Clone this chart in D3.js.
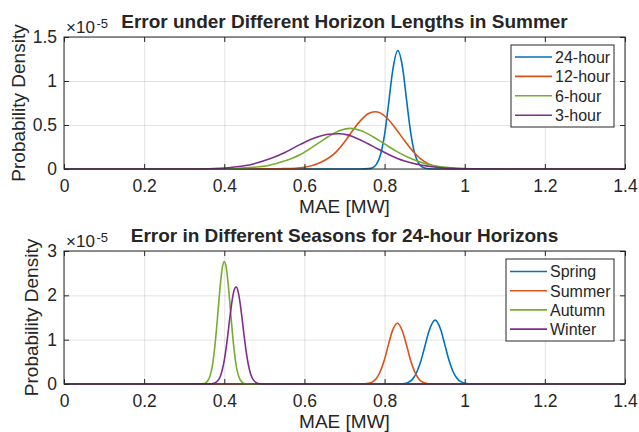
<!DOCTYPE html>
<html>
<head>
<meta charset="utf-8">
<script src="https://cdn.jsdelivr.net/npm/d3@7"></script>
<style>
  body { margin: 0; background: #fff; }
  svg { font-family: "Liberation Sans", Arial, Helvetica, sans-serif; }
</style>
</head>
<body>
<div id="chart"></div>
<script>
// tick values
const xTicks = [0, 0.2, 0.4, 0.6, 0.8, 1, 1.2, 1.4];
const topYTicks = [0, 0.5, 1, 1.5];
const bottomYTicks = [0, 1, 2, 3];

const horizonNames = ["24-hour", "12-hour", "6-hour", "3-hour"];
const seasonNames = ["Spring", "Summer", "Autumn", "Winter"];
const lineColors = ["#0072BD", "#D95319", "#77AC30", "#7E2F8E"];

// summer, by horizon (density in units of 1e-5)
const h24Mae = [0, 0.70, 0.74, 0.76, 0.77, 0.78, 0.79, 0.80, 0.81, 0.82, 0.833, 0.845, 0.855, 0.865, 0.875, 0.885, 0.895, 0.91, 0.93, 0.96, 1.4];
const h24Pdf = [0, 0, 0, 0.004, 0.015, 0.056, 0.165, 0.39, 0.74, 1.11, 1.345, 1.15, 0.78, 0.42, 0.18, 0.065, 0.02, 0.003, 0, 0, 0];
const h12Mae = [0, 0.45, 0.50, 0.55, 0.60, 0.64, 0.68, 0.70, 0.72, 0.74, 0.76, 0.776, 0.79, 0.81, 0.83, 0.85, 0.87, 0.89, 0.91, 0.93, 0.96, 1.0, 1.05, 1.4];
const h12Pdf = [0, 0, 0.001, 0.004, 0.02, 0.073, 0.197, 0.306, 0.434, 0.55, 0.63, 0.651, 0.635, 0.56, 0.446, 0.32, 0.205, 0.115, 0.058, 0.025, 0.006, 0.001, 0, 0];
const h6Mae = [0, 0.35, 0.39, 0.43, 0.47, 0.51, 0.55, 0.59, 0.63, 0.66, 0.69, 0.714, 0.74, 0.77, 0.80, 0.83, 0.86, 0.90, 0.94, 0.98, 1.03, 1.1, 1.4];
const h6Pdf = [0, 0, 0.002, 0.006, 0.018, 0.04, 0.09, 0.165, 0.28, 0.37, 0.44, 0.462, 0.438, 0.37, 0.285, 0.20, 0.13, 0.062, 0.025, 0.008, 0.002, 0, 0];
const h3Mae = [0, 0.33, 0.39, 0.43, 0.47, 0.51, 0.55, 0.59, 0.63, 0.66, 0.684, 0.71, 0.73, 0.77, 0.81, 0.85, 0.89, 0.93, 0.97, 1.02, 1.1, 1.4];
const h3Pdf = [0, 0, 0.008, 0.025, 0.055, 0.11, 0.185, 0.28, 0.36, 0.395, 0.40, 0.385, 0.35, 0.26, 0.165, 0.09, 0.045, 0.02, 0.007, 0.002, 0, 0];

// 24-hour horizon, by season (density in units of 1e-5)
const springMae = [0, 0.82, 0.84, 0.85, 0.86, 0.87, 0.88, 0.89, 0.90, 0.91, 0.926, 0.94, 0.95, 0.96, 0.97, 0.98, 0.99, 1.00, 1.01, 1.03, 1.4];
const springPdf = [0, 0, 0.003, 0.013, 0.042, 0.11, 0.26, 0.50, 0.83, 1.17, 1.44, 1.23, 0.90, 0.56, 0.30, 0.134, 0.052, 0.017, 0.005, 0, 0];
const summerMae = [0, 0.73, 0.75, 0.76, 0.77, 0.78, 0.79, 0.80, 0.81, 0.82, 0.832, 0.845, 0.855, 0.865, 0.875, 0.885, 0.895, 0.905, 0.915, 0.93, 1.4];
const summerPdf = [0, 0, 0.004, 0.015, 0.049, 0.13, 0.30, 0.56, 0.90, 1.21, 1.37, 1.18, 0.87, 0.53, 0.28, 0.12, 0.043, 0.013, 0.003, 0, 0];
const autumnMae = [0, 0.33, 0.35, 0.36, 0.365, 0.37, 0.375, 0.38, 0.385, 0.39, 0.395, 0.40, 0.405, 0.41, 0.415, 0.42, 0.425, 0.43, 0.435, 0.44, 0.45, 0.47, 1.4];
const autumnPdf = [0, 0, 0.013, 0.09, 0.20, 0.40, 0.73, 1.18, 1.71, 2.23, 2.62, 2.76, 2.62, 2.23, 1.71, 1.18, 0.73, 0.40, 0.20, 0.09, 0.013, 0, 0];
const winterMae = [0, 0.36, 0.37, 0.38, 0.39, 0.395, 0.40, 0.405, 0.41, 0.415, 0.42, 0.425, 0.43, 0.435, 0.44, 0.445, 0.45, 0.455, 0.46, 0.465, 0.47, 0.48, 0.49, 0.50, 1.4];
const winterPdf = [0, 0.002, 0.007, 0.04, 0.17, 0.32, 0.54, 0.83, 1.20, 1.58, 1.91, 2.13, 2.19, 2.06, 1.79, 1.43, 1.05, 0.71, 0.44, 0.25, 0.13, 0.028, 0.004, 0, 0];

const width = 639, height = 432;
const ink = "#262626";

const svg = d3.select("#chart").append("svg")
    .attr("width", width)
    .attr("height", height);

const x = d3.scaleLinear().domain([0, 1.4]).range([64, 625]);

function drawPanel(p) {
    const y = d3.scaleLinear().domain([0, p.yMax]).range([p.bottom, p.top]);
    const g = svg.append("g");
    const h = p.bottom - p.top;

    // grid
    g.append("g")
        .attr("transform", "translate(0," + p.bottom + ")")
        .call(d3.axisBottom(x).tickValues(xTicks).tickSize(-h).tickFormat(""))
        .call(s => s.select(".domain").remove())
        .selectAll("line").attr("stroke", ink).attr("stroke-opacity", 0.13);
    g.append("g")
        .attr("transform", "translate(64,0)")
        .call(d3.axisLeft(y).tickValues(p.yTicks).tickSize(-561).tickFormat(""))
        .call(s => s.select(".domain").remove())
        .selectAll("line").attr("stroke", ink).attr("stroke-opacity", 0.13);

    // curves
    const line = d3.line()
        .x(d => x(d[0]))
        .y(d => y(d[1]))
        .curve(d3.curveMonotoneX);
    p.series.forEach((s, i) => {
        g.append("path")
            .datum(d3.zip(s.mae, s.pdf))
            .attr("fill", "none")
            .attr("stroke", lineColors[i])
            .attr("stroke-width", 1.6)
            .attr("d", line);
    });

    // axes
    const axB = g.append("g")
        .attr("transform", "translate(0," + p.bottom + ")")
        .call(d3.axisBottom(x).tickValues(xTicks).tickSize(-5).tickPadding(11)
            .tickFormat(d3.format("~g")));
    const axT = g.append("g")
        .attr("transform", "translate(0," + p.top + ")")
        .call(d3.axisTop(x).tickValues(xTicks).tickSize(-5).tickFormat(""));
    const axL = g.append("g")
        .attr("transform", "translate(64,0)")
        .call(d3.axisLeft(y).tickValues(p.yTicks).tickSize(-5).tickPadding(7)
            .tickFormat(d3.format("~g")));
    const axR = g.append("g")
        .attr("transform", "translate(625,0)")
        .call(d3.axisRight(y).tickValues(p.yTicks).tickSize(-5).tickFormat(""));
    [axB, axT, axL, axR].forEach(a => {
        a.select(".domain").remove();
        a.selectAll("line").attr("stroke", ink);
        a.selectAll("text").attr("fill", ink).style("font-size", "17.5px");
    });

    g.append("rect")
        .attr("x", 64).attr("y", p.top)
        .attr("width", 561).attr("height", h)
        .attr("fill", "none").attr("stroke", ink);

    // exponent
    g.append("text")
        .attr("x", 66).attr("y", p.top - 4)
        .attr("fill", ink).style("font-size", "17px")
        .text("\u00d710");
    g.append("text")
        .attr("x", 96.5).attr("y", p.top - 9)
        .attr("fill", ink).style("font-size", "13px")
        .text("-5");

    // title
    g.append("text")
        .attr("x", 344.5).attr("y", p.titleY)
        .attr("text-anchor", "middle")
        .attr("fill", ink).style("font-size", "19px").style("font-weight", "bold")
        .text(p.title);

    // axis labels
    g.append("text")
        .attr("x", 344.5).attr("y", p.xLabelY)
        .attr("text-anchor", "middle")
        .attr("fill", ink).style("font-size", "19px")
        .text("MAE [MW]");
    g.append("text")
        .attr("transform", "translate(" + p.yLabelX + "," + (p.top + p.bottom) / 2 + ")rotate(-90)")
        .attr("text-anchor", "middle")
        .attr("fill", ink).style("font-size", "19px")
        .text("Probability Density");

    // legend
    const lg = g.append("g");
    lg.append("rect")
        .attr("x", p.legend.x0).attr("y", p.legend.y0)
        .attr("width", p.legend.x1 - p.legend.x0)
        .attr("height", p.legend.y1 - p.legend.y0)
        .attr("fill", "#fff").attr("stroke", ink);
    p.names.forEach((name, i) => {
        const cy = p.legend.rowY + i * p.legend.step;
        lg.append("line")
            .attr("x1", p.legend.lineX0).attr("x2", p.legend.lineX1)
            .attr("y1", cy).attr("y2", cy)
            .attr("stroke", lineColors[i]).attr("stroke-width", 1.6);
        lg.append("text")
            .attr("x", p.legend.lineX1 + 3).attr("y", cy + 5.8)
            .attr("fill", ink).style("font-size", "16px")
            .text(name);
    });
}

drawPanel({
    top: 37, bottom: 169, yMax: 1.5, yTicks: topYTicks,
    title: "Error under Different Horizon Lengths in Summer",
    titleY: 28, xLabelY: 213, yLabelX: 25,
    names: horizonNames,
    series: [
        { mae: h24Mae, pdf: h24Pdf },
        { mae: h12Mae, pdf: h12Pdf },
        { mae: h6Mae, pdf: h6Pdf },
        { mae: h3Mae, pdf: h3Pdf }
    ],
    legend: { x0: 511, x1: 614, y0: 45, y1: 127, rowY: 57, step: 19.4, lineX0: 515, lineX1: 552 }
});

drawPanel({
    top: 251, bottom: 384, yMax: 3, yTicks: bottomYTicks,
    title: "Error in Different Seasons for 24-hour Horizons",
    titleY: 242, xLabelY: 428, yLabelX: 38,
    names: seasonNames,
    series: [
        { mae: springMae, pdf: springPdf },
        { mae: summerMae, pdf: summerPdf },
        { mae: autumnMae, pdf: autumnPdf },
        { mae: winterMae, pdf: winterPdf }
    ],
    legend: { x0: 506, x1: 614, y0: 259, y1: 341, rowY: 271.5, step: 19.2, lineX0: 510, lineX1: 547 }
});
</script>
</body>
</html>
